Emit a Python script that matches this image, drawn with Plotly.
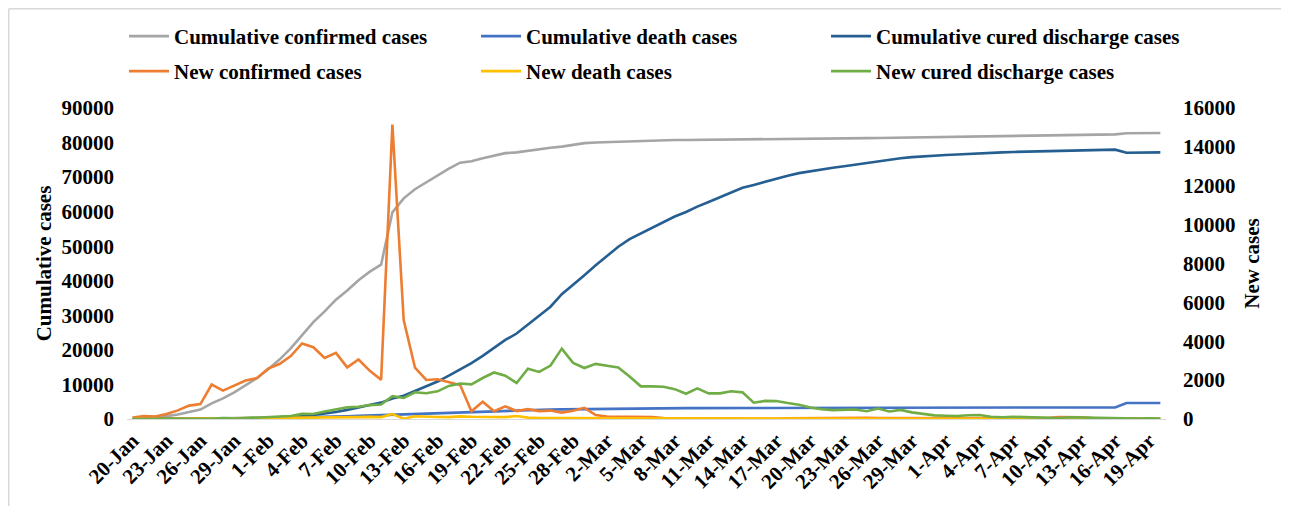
import plotly.graph_objects as go
import datetime as dt

start = dt.date(2020, 1, 20)
dates = [(start + dt.timedelta(days=i)) for i in range(92)]
categories = [f"{d.day}-{d.strftime('%b')}" for d in dates]
tick_labels = categories[::3]

cum_confirmed = [291, 440, 571, 830, 1287, 1975, 2744, 4515, 5974, 7711, 9692, 11791,
                 14380, 17205, 20438, 24324, 28018, 31161, 34546, 37198, 40171, 42638, 44653,
                 59804, 63851, 66492, 68500, 70548, 72436, 74185, 74576, 75465, 76288, 76936,
                 77150, 77658, 78064, 78497, 78824, 79251, 79824,
                 80026, 80151, 80270, 80409, 80552, 80651, 80695, 80735, 80754, 80778, 80793,
                 80813, 80824, 80844, 80860, 80881, 80894, 80928, 80967, 81008, 81054, 81093,
                 81171, 81218, 81285, 81340, 81394, 81439, 81470, 81518, 81554,
                 81589, 81620, 81639, 81669, 81708, 81740, 81802, 81865, 81907, 81953, 82052,
                 82160, 82249, 82295, 82341, 82367, 82692, 82719, 82735, 82747]
cum_death = [6, 9, 17, 25, 41, 56, 80, 106, 132, 170, 213, 259,
             304, 361, 425, 490, 563, 636, 722, 811, 908, 1016, 1113,
             1367, 1380, 1523, 1665, 1770, 1868, 2004, 2118, 2236, 2345, 2442,
             2592, 2663, 2715, 2744, 2788, 2835, 2870,
             2912, 2943, 2981, 3012, 3042, 3070, 3097, 3119, 3136, 3158, 3169,
             3176, 3189, 3199, 3213, 3226, 3237, 3245, 3248, 3255, 3261, 3270,
             3277, 3281, 3287, 3292, 3295, 3300, 3304, 3305, 3312,
             3318, 3322, 3326, 3329, 3331, 3331, 3333, 3335, 3336, 3339, 3339,
             3341, 3341, 3341, 3342, 3342, 4632, 4632, 4632, 4632]
cum_cured = [25, 25, 28, 34, 38, 49, 51, 60, 103, 124, 171, 243,
             328, 475, 632, 892, 1153, 1540, 2050, 2649, 3281, 3996, 4740,
             5911, 6723, 8096, 9419, 10844, 12552, 14376, 16155, 18264, 20659, 22888,
             24734, 27323, 29745, 32495, 36117, 39002, 41625,
             44462, 47204, 49856, 52045, 53726, 55404, 57065, 58600, 59897, 61475, 62793,
             64111, 65541, 66911, 67749, 68679, 69601, 70420, 71150, 71740, 72244, 72703,
             73159, 73650, 74051, 74588, 74978, 75448, 75790, 76052, 76238,
             76408, 76565, 76755, 76964, 77078, 77167, 77279, 77370, 77455, 77525, 77575,
             77663, 77738, 77816, 77892, 77944, 77062, 77084, 77125, 77151]
new_confirmed = [77, 149, 131, 259, 444, 688, 769, 1771, 1459, 1737, 1982, 2102,
                 2590, 2829, 3235, 3887, 3694, 3143, 3399, 2656, 3062, 2478, 2015,
                 15152, 5090, 2641, 2009, 2048, 1886, 1749, 394, 889, 397, 648,
                 409, 508, 406, 433, 327, 427, 573,
                 202, 125, 119, 139, 143, 99, 44, 40, 19, 24, 15,
                 20, 11, 20, 16, 21, 13, 34, 39, 41, 46, 39,
                 78, 47, 67, 55, 54, 45, 31, 48, 36,
                 35, 31, 19, 30, 39, 32, 62, 63, 42, 46, 99,
                 108, 89, 46, 46, 26, 27, 16, 12, 11]
new_death = [3, 3, 8, 8, 16, 15, 24, 26, 26, 38, 43, 46,
             45, 57, 64, 65, 73, 73, 86, 89, 97, 108, 97,
             254, 13, 143, 142, 105, 98, 136, 114, 118, 109, 97,
             150, 71, 52, 29, 44, 47, 35,
             42, 31, 38, 31, 30, 28, 27, 22, 17, 22, 11,
             7, 13, 10, 14, 13, 11, 8, 3, 7, 6, 9,
             7, 4, 6, 5, 3, 5, 4, 1, 7,
             6, 4, 4, 3, 2, 0, 2, 2, 1, 3, 0,
             2, 0, 0, 1, 0, 0, 0, 0, 0]
new_cured = [0, 0, 3, 6, 4, 11, 2, 9, 43, 21, 47, 72,
             85, 147, 157, 262, 261, 387, 510, 600, 632, 716, 744,
             1171, 1081, 1373, 1323, 1425, 1701, 1824, 1779, 2109, 2393, 2230,
             1846, 2589, 2422, 2750, 3622, 2885, 2623,
             2837, 2742, 2652, 2189, 1681, 1678, 1661, 1535, 1297, 1578, 1318,
             1318, 1430, 1370, 838, 930, 922, 819, 730, 590, 504, 459,
             456, 491, 401, 537, 390, 470, 342, 262, 186,
             170, 157, 190, 209, 114, 89, 112, 91, 85, 70, 50,
             88, 75, 78, 76, 52, 38, 22, 41, 26]

FONT = "Liberation Serif, Times New Roman, serif"
# the page adds an 8px body margin, so the figure is 8px smaller
W, H = 1281, 498
L, R, T, B = 119, 123, 100, 87
pw, ph = W - L - R, H - T - B

fig = go.Figure()
series = [
    ("Cumulative confirmed cases", cum_confirmed, "#A5A5A5", "y"),
    ("Cumulative death cases", cum_death, "#4472C4", "y"),
    ("Cumulative cured discharge cases", cum_cured, "#255E91", "y"),
    ("New confirmed cases", new_confirmed, "#ED7D31", "y2"),
    ("New death cases", new_death, "#FFC000", "y2"),
    ("New cured discharge cases", new_cured, "#70AD47", "y2"),
]
legend_ids = ["legend", "legend2", "legend3", "legend4", "legend5", "legend6"]
for (name, vals, col, ax), lg in zip(series, legend_ids):
    fig.add_trace(go.Scatter(x=categories, y=vals, name=name, mode="lines",
                             line=dict(color=col, width=2.6), yaxis=ax, legend=lg))

# light border of chart area (top and left edges)
fig.add_shape(type="line", xref="paper", yref="paper",
              x0=(0.75 - L) / pw, x1=(W - L) / pw,
              y0=(H - 0.75 - B) / ph, y1=(H - 0.75 - B) / ph,
              line=dict(color="#D9D9D9", width=1.5), layer="below")
fig.add_shape(type="line", xref="paper", yref="paper",
              x0=(0.75 - L) / pw, x1=(0.75 - L) / pw,
              y0=(-B) / ph, y1=(H - 0.75 - B) / ph,
              line=dict(color="#D9D9D9", width=1.5), layer="below")

legend_common = dict(orientation="h", xanchor="left", yanchor="top",
                     font=dict(family=FONT, size=21, color="#000000", weight="bold"),
                     itemwidth=40, bgcolor="rgba(0,0,0,0)")
col_x = [116, 468, 818]
row_y = [8, 43]
legends = {}
for i, lg in enumerate(legend_ids):
    cx = col_x[i % 3]
    ry = row_y[i // 3]
    legends[lg] = dict(x=(cx - L) / pw, y=(H - ry - B) / ph, **legend_common)

fig.update_layout(
    width=W, height=H,
    margin=dict(l=L, r=R, t=T, b=B, autoexpand=False),
    paper_bgcolor="white", plot_bgcolor="white",
    font=dict(family=FONT, size=21, color="#000000", weight="bold"),
    showlegend=True,
    xaxis=dict(type="category", range=[-0.5, 91.5], tickmode="array",
               tickvals=tick_labels, ticktext=tick_labels, tickangle=-45,
               showgrid=False, zeroline=False, showline=True, linecolor="#D9D9D9",
               linewidth=1, ticks="", tickfont=dict(size=21), automargin=False),
    yaxis=dict(range=[0, 90000], dtick=10000, tickformat="d", showgrid=False,
               zeroline=False, showline=False, ticks="", ticklabelstandoff=12,
               automargin=False,
               title=dict(text="Cumulative cases", standoff=4, font=dict(size=21)),
               tickfont=dict(size=21)),
    yaxis2=dict(range=[0, 16000], dtick=2000, tickformat="d", overlaying="y", side="right",
                showgrid=False, zeroline=False, showline=False, ticks="",
                ticklabelstandoff=16, automargin=False,
                title=dict(text="New cases", standoff=9, font=dict(size=21)),
                tickfont=dict(size=21)),
    **legends,
)

fig.write_html("out.html")
